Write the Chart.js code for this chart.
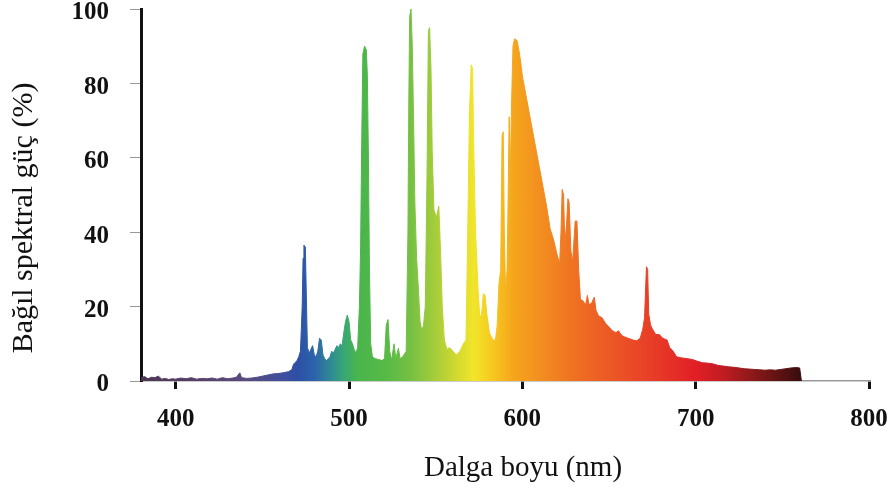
<!DOCTYPE html>
<html>
<head>
<meta charset="utf-8">
<script src="https://cdn.jsdelivr.net/npm/chart.js@4"></script>
<style>
  html, body { margin: 0; padding: 0; background: #fff; }
  #wrap { width: 888px; height: 490px; position: relative; }
</style>
</head>
<body>
<div id="wrap"><canvas id="spektrum"></canvas></div>
<script>
// dalga boyu (nm) ve bağıl güç (%)
const dalgaBoyu = [
  380, 382, 384, 386, 388, 390, 392, 394, 396, 398, 400, 403, 406, 409, 412, 415, 418, 421, 424, 427,
  430, 433, 435, 437, 438, 441, 444, 447, 450, 453, 456, 459, 462, 465, 467, 468, 469, 470, 471, 472,
  473, 473.5, 474, 474.8, 475.3, 476, 477, 478, 479, 480, 481, 482, 483, 484, 485, 486, 487, 488, 489, 490,
  491, 492, 493, 494, 495, 496, 497, 498, 499, 500, 501, 502, 503, 504, 505, 506, 506.7, 507.3, 508, 509,
  510, 510.6, 511.2, 511.8, 512.5, 513.5, 515, 517, 519, 520.5, 521.5, 522.5, 523.5, 524.5, 526, 527, 528.5, 529.5, 531, 533,
  534, 534.5, 535, 535.8, 536.5, 537.2, 538, 539, 540, 541, 542, 543, 544, 545, 545.8, 546.5, 547.3, 548, 549, 550.5,
  551.8, 552.8, 553.8, 555, 556.5, 558, 560, 562, 564, 566, 567.5, 568.5, 569.5, 570.5, 571.3, 572, 573, 574.5, 575.5, 576.5,
  577.5, 578.5, 579.5, 581, 583, 584.5, 585.5, 586.5, 587.5, 588.3, 589, 589.6, 590.3, 591.2, 591.8, 592.4, 593, 593.8, 594.6, 595.5,
  597, 598, 599, 600, 602, 604, 606, 608, 610, 612, 614, 616, 618, 620, 621.5, 622.3, 623, 623.8, 624.5, 625.5,
  626.3, 627, 628, 629, 630.5, 631.5, 632.5, 633.5, 635, 636.5, 637.5, 638.5, 640, 641.5, 642.5, 644, 646, 648, 650, 652,
  654, 655.5, 656.5, 658, 661, 664, 666, 668, 669.5, 670.5, 671.6, 672.3, 672.9, 674, 675, 677, 679, 681, 683.5, 685,
  687, 689, 692, 695, 698, 701, 704, 707, 710, 713, 716, 719, 722, 725, 728, 731, 734, 737, 740, 743,
  746, 749, 752, 755, 758, 760, 761
];
const bagilGuc = [
  0.8, 1.2, 0.6, 1.0, 0.9, 1.3, 0.5, 0.7, 0.4, 0.6, 0.5, 0.8, 0.6, 0.9, 0.5, 0.7, 0.6, 0.8, 0.5, 0.9,
  0.6, 0.8, 1.0, 2.2, 0.9, 0.7, 0.8, 1.0, 1.3, 1.6, 1.9, 2.0, 2.2, 2.5, 3.0, 4.5, 5.0, 5.5, 6.5, 8.0,
  20, 33, 36.5, 36, 25, 9, 7.5, 8.5, 9.5, 7, 6.5, 8, 11.5, 11, 7, 6, 5.5, 6, 6.5, 8,
  7.5, 8.5, 9.5, 9, 10, 9.5, 13, 16, 17.7, 16, 11, 10, 8.5, 7.5, 9, 20, 36, 63, 88, 90,
  89, 82, 60, 30, 10, 6.5, 6, 5.8, 5.5, 6, 15, 16.5, 8, 5.5, 10, 6, 8.8, 6, 6.5, 8,
  40, 75, 98, 100, 90, 72, 48, 33, 25, 16, 13.5, 15, 20, 55, 94, 95, 84, 62, 46, 44,
  47, 35, 20, 11, 8.5, 9, 8, 7, 8, 10, 11, 40, 72, 85, 84, 62, 40, 24, 17, 18,
  23.5, 23, 18, 13, 11, 11, 15, 26, 30, 66, 67, 40, 24, 30, 49, 71, 55, 75, 90, 92,
  91.5, 89, 86, 82, 77, 72, 67, 62, 57, 52, 47, 41, 38, 34, 31.5, 40, 51.5, 50, 37, 42,
  49, 48, 35, 32, 43, 43, 30, 22, 21.5, 20.5, 23, 20.5, 21, 22.5, 19, 17.5, 17, 15.5, 14.5, 13.5,
  13, 13.5, 12.8, 12, 11.5, 11, 10.8, 11.5, 14, 17, 30.7, 30, 18, 15, 14, 12.5, 12.5, 11.5, 11, 9,
  8, 6.5, 6.2, 6.0, 5.8, 5.3, 4.9, 4.8, 4.6, 4.2, 4.0, 3.8, 3.7, 3.5, 3.3, 3.2, 3.1, 3.0, 2.9, 3.0,
  2.9, 3.1, 3.3, 3.5, 3.6, 3.5, 0
];
const xTikler = [400, 500, 600, 700, 800];
const yTikler = [0, 20, 40, 60, 80, 100];

// spektrum renkleri (dalga boyuna göre)
const renkNm = [380, 440, 462, 470, 480, 490, 497, 505, 520, 535, 550, 562, 572, 582, 595, 612, 630, 650, 675, 700, 715, 735, 760];
const renkler = ['#4e3554', '#5a4a7e', '#3f4f9e', '#2c4fa6', '#2d62ab', '#2f8c93', '#38a775', '#49b54c', '#55b947', '#74c043', '#a6cd3a', '#d2d92f', '#f1e52a', '#f6ca20', '#f5a51c', '#f28c20', '#ef7122', '#ec5925', '#e83d27', '#e21f26', '#c21d22', '#861818', '#3a0d0d'];

const serif = "'Liberation Serif', 'Times New Roman', serif";

function spektrumGradyan(c) {
  const chart = c.chart;
  const area = chart.chartArea;
  if (!area) return '#4cb848';
  const g = chart.ctx.createLinearGradient(area.left, 0, area.right, 0);
  renkNm.forEach((nm, i) => {
    const f = (chart.scales.x.getPixelForValue(nm) - area.left) / area.width;
    g.addColorStop(Math.min(1, Math.max(0, f)), renkler[i]);
  });
  return g;
}

// eksen başlıkları
const eksenBasliklari = {
  id: 'eksenBasliklari',
  afterDraw(chart) {
    const ctx = chart.ctx;
    ctx.save();
    ctx.fillStyle = '#111';
    ctx.textAlign = 'center';
    ctx.textBaseline = 'middle';
    ctx.font = '29px ' + serif;
    ctx.fillText('Dalga boyu (nm)', 523, 468);
    ctx.translate(24, 218);
    ctx.rotate(-Math.PI / 2);
    ctx.font = '30px ' + serif;
    ctx.fillText('Bağıl spektral güç (%)', 0, 0);
    ctx.restore();
  }
};

new Chart(document.getElementById('spektrum'), {
  type: 'line',
  data: {
    datasets: [{
      data: dalgaBoyu.map((x, i) => ({ x: x, y: bagilGuc[i] })),
      fill: 'origin',
      backgroundColor: spektrumGradyan,
      borderColor: spektrumGradyan,
      borderWidth: 1,
      pointRadius: 0,
      tension: 0
    }]
  },
  options: {
    responsive: true,
    maintainAspectRatio: false,
    animation: false,
    layout: { padding: { left: 0, top: 9, right: 19, bottom: 0 } },
    plugins: { legend: { display: false }, tooltip: { enabled: false } },
    scales: {
      x: {
        type: 'linear',
        min: 380,
        max: 800,
        afterBuildTicks: s => { s.ticks = xTikler.map(v => ({ value: v })); },
        afterFit: s => { s.height = 109; s.paddingLeft = 0; s.paddingRight = 0; },
        ticks: { font: { family: serif, size: 25, weight: 'bold' }, color: '#111', padding: 16, maxRotation: 0 },
        grid: { drawOnChartArea: false, tickLength: 8, color: '#111', lineWidth: 3 },
        border: { color: '#999', width: 1.5 }
      },
      y: {
        min: 0,
        max: 100,
        afterBuildTicks: s => { s.ticks = yTikler.map(v => ({ value: v })); },
        afterFit: s => { s.width = 141; s.paddingTop = 0; s.paddingBottom = 0; },
        ticks: { font: { family: serif, size: 25, weight: 'bold' }, color: '#111', padding: 21, labelOffset: 4 },
        grid: { drawOnChartArea: false, tickLength: 11, color: '#999', lineWidth: 1 },
        border: { color: '#111', width: 3 }
      }
    }
  },
  plugins: [eksenBasliklari]
});
</script>
</body>
</html>
